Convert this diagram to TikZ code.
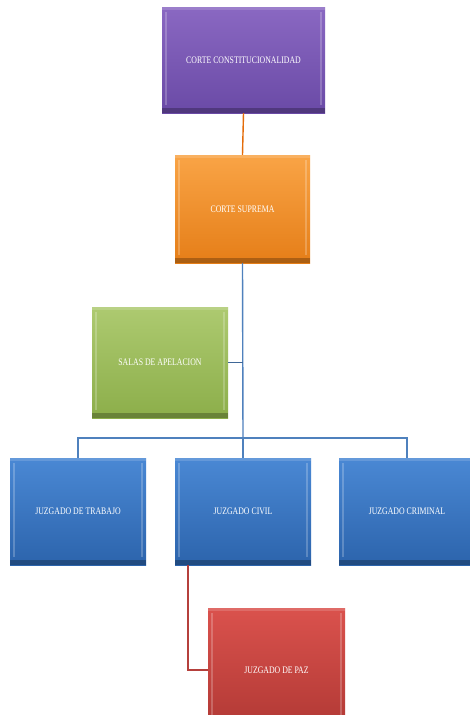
\documentclass[tikz,border=0pt]{standalone}
\usepackage{fontspec}
\setmainfont{Liberation Serif}
\definecolor{purT}{HTML}{8A68C2}\definecolor{purB}{HTML}{6A4AA6}
\definecolor{orgT}{HTML}{F9A446}\definecolor{orgB}{HTML}{E57E18}
\definecolor{grnT}{HTML}{ADCA70}\definecolor{grnB}{HTML}{8CAE4A}
\definecolor{bluT}{HTML}{4A88D4}\definecolor{bluB}{HTML}{2C64AC}
\definecolor{redT}{HTML}{DA524D}\definecolor{redB}{HTML}{B03834}
\definecolor{lnBlue}{HTML}{4F81BD}
\definecolor{lnOrg}{HTML}{E46C0A}
\definecolor{lnRed}{HTML}{B5403C}
\newcommand{\bxt}[1]{\scalebox{0.78}[1]{#1}}
\tikzset{
  orgbox/.style={rectangle, minimum width=#1, inner sep=0pt, text=white,
    font=\fontsize{10}{11}\selectfont,
    path picture={
      \fill[white,opacity=0.22] ([xshift=3pt,yshift=-5pt]path picture bounding box.north west) rectangle ([xshift=5pt,yshift=8pt]path picture bounding box.south west);
      \fill[white,opacity=0.22] ([xshift=-3pt,yshift=-5pt]path picture bounding box.north east) rectangle ([xshift=-5pt,yshift=8pt]path picture bounding box.south east);
      \fill[black,opacity=0.25] (path picture bounding box.south west) rectangle ([yshift=5pt]path picture bounding box.south east);
      \fill[white,opacity=0.15] (path picture bounding box.north west) rectangle ([yshift=-3pt]path picture bounding box.north east);
    }},
  con/.style={line width=1.4pt}
}
\begin{document}
\begin{tikzpicture}[x=1pt,y=-1pt]
\useasboundingbox[fill=white] (0,0) rectangle (469,715);
\node[orgbox=163pt, minimum height=106pt, top color=purT, bottom color=purB] (cc) at (243.5,60) {\bxt{CORTE CONSTITUCIONALIDAD}};
\node[orgbox=135pt, minimum height=108pt, top color=orgT, bottom color=orgB] (cs) at (242.5,209) {\bxt{CORTE SUPREMA}};
\node[orgbox=136pt, minimum height=111pt, top color=grnT, bottom color=grnB] (sa) at (160,362.5) {\bxt{SALAS DE APELACION}};
\node[orgbox=136pt, minimum height=107pt, top color=bluT, bottom color=bluB] (jt) at (78,511.5) {\bxt{JUZGADO DE TRABAJO}};
\node[orgbox=136pt, minimum height=107pt, top color=bluT, bottom color=bluB] (jc) at (243,511.5) {\bxt{JUZGADO CIVIL}};
\node[orgbox=136pt, minimum height=107pt, top color=bluT, bottom color=bluB] (jr) at (407,511.5) {\bxt{JUZGADO CRIMINAL}};
\node[orgbox=137pt, minimum height=124pt, top color=redT, bottom color=redB] (jp) at (276.5,670) {\bxt{JUZGADO DE PAZ}};
\coordinate (bar) at (243,438);
\coordinate (sj) at (243,362.5);
\draw[con, lnOrg] (cc.south) -- (cs.north);
\draw[con, lnBlue] (cs.south) -- (bar);
\draw[con, lnBlue!80!black] (sa.east) -- (sj);
\draw[con, lnBlue] (jt.north) |- (bar) -| (jr.north);
\draw[con, lnBlue] (bar) -- (jc.north);
\coordinate (civdrop) at (188,565);
\draw[con, lnRed] (civdrop) |- (jp.west);
\end{tikzpicture}
\end{document}
